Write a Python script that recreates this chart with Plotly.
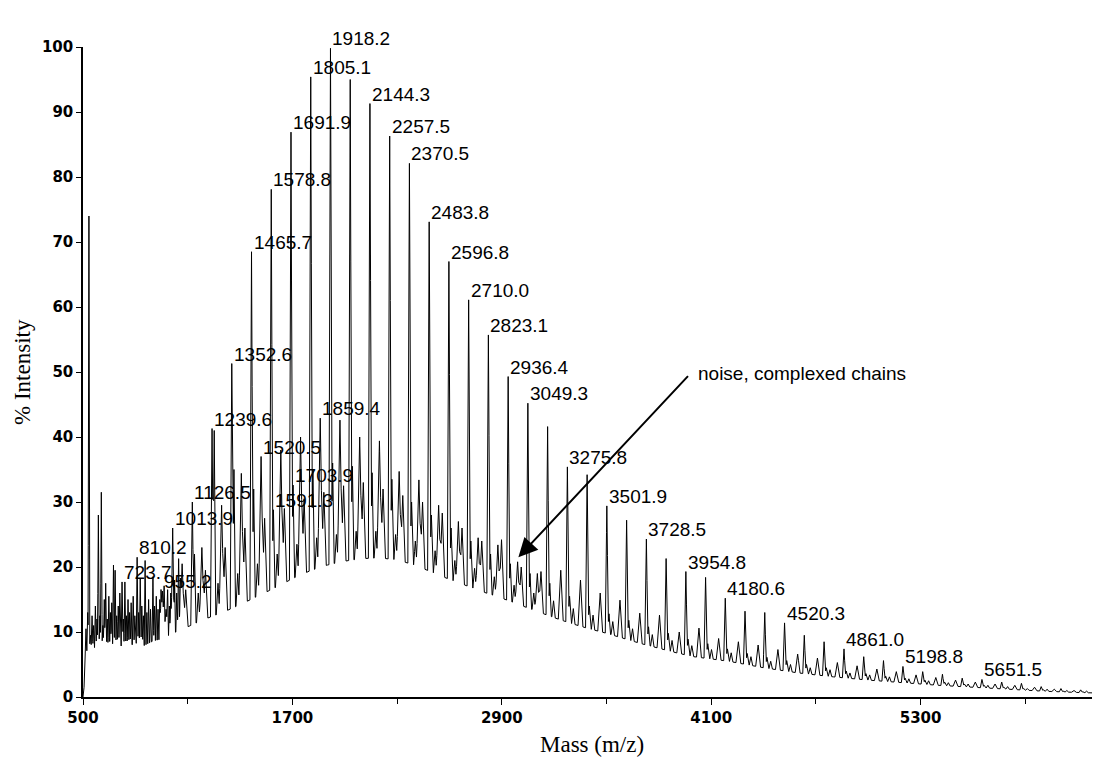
import numpy as np
import plotly.graph_objects as go

# ---------------- data ----------------
# lower envelope (floor) of the trace, % intensity
floor_mass = [500, 506, 512, 530, 560, 600, 650, 700, 750, 800, 850, 900, 950, 1000,
              1100, 1200, 1300, 1400, 1500, 1600, 1700, 1800, 1900, 2000, 2100, 2200,
              2300, 2400, 2500, 2600, 2700, 2800, 2900, 3000, 3100, 3200, 3300, 3400,
              3500, 3600, 3700, 3800, 3900, 4000, 4200, 4400, 4600, 4800, 5000, 5200,
              5400, 5600, 5800, 6000, 6200, 6328]
floor_val = [0, 1.5, 6, 8, 7.5, 8.2, 7.4, 8.0, 7.6, 8.3, 7.9, 8.6, 8.9, 9.6,
             10.8, 12.0, 13.0, 14.2, 15.5, 16.8, 18.2, 19.4, 20.3, 20.9, 21.3, 21.4,
             21.1, 20.3, 19.2, 18.1, 17.1, 16.1, 15.2, 14.2, 13.2, 12.2, 11.3, 10.5,
             9.8, 9.0, 8.2, 7.5, 6.8, 6.2, 5.5, 4.5, 3.7, 3.1, 2.6, 2.2,
             1.8, 1.5, 1.2, 0.9, 0.7, 0.6]

# main series (106.14 + n*113.16)
main_mass = [1013.9, 1126.5, 1239.6, 1352.6, 1465.7, 1578.8, 1691.9, 1805.1, 1918.2, 2031.3,
             2144.3, 2257.5, 2370.5, 2483.8, 2596.8, 2710.0, 2823.1, 2936.4, 3049.3, 3162.5,
             3275.8, 3388.9, 3501.9, 3615.2, 3728.5, 3841.6, 3954.8, 4067.8, 4180.6, 4293.7,
             4406.9, 4520.3, 4633.5, 4746.8, 4861.0, 4974.0, 5087.3, 5198.8, 5311.9, 5425.1,
             5538.3, 5651.5, 5764.6, 5877.8, 5990.9, 6104.1, 6217.2]
main_int = [26.0, 30.0, 41.3, 51.3, 68.5, 78.1, 86.9, 95.4, 99.8, 95.0,
            91.3, 86.3, 82.1, 73.1, 67.0, 61.1, 55.7, 49.3, 45.2, 41.6,
            35.4, 34.2, 29.4, 27.2, 24.3, 21.3, 19.3, 18.4, 15.2, 13.2,
            13.0, 11.4, 9.5, 8.5, 7.4, 6.2, 5.6, 4.7, 3.9, 3.5,
            2.9, 2.7, 2.3, 2.1, 1.6, 1.3, 1.1]

# secondary series (complexed chains)
c_mass = [955.2, 1068.1, 1181.2, 1294.3, 1407.4, 1520.5, 1633.6, 1746.7, 1859.4, 1972.5,
          2085.6, 2198.7, 2311.8, 2424.9, 2538.0, 2651.2, 2764.3, 2877.5, 2990.6, 3103.7]
c_int = [16.3, 20.5, 23.0, 29.5, 34.4, 37.0, 38.0, 40.0, 42.9, 42.6,
         40.0, 39.4, 34.7, 33.4, 29.5, 27.0, 24.5, 23.4, 20.8, 19.0]

d_mass = [976.0, 1088.5, 1201.6, 1314.6, 1427.7, 1540.8, 1653.9, 1767.1, 1880.2, 1993.3,
          2106.3, 2219.5, 2332.5, 2445.8, 2558.8, 2672.0, 2785.1, 2898.4, 3011.3, 3124.5,
          3237.8, 3350.9, 3463.9, 3577.2, 3690.5, 3803.6, 3916.8, 4029.8, 4142.6, 4255.7,
          4368.9, 4482.3, 4595.5, 4708.8, 4823.0, 4936.0, 5049.3, 5160.8, 5273.9, 5387.1,
          5500.3, 5613.5, 5726.6, 5839.8, 5952.9, 6066.1, 6179.2]
d_int = [13.5, 16.5, 19.5, 23.0, 26.0, 27.5, 29.0, 30.5, 31.5, 32.5,
         33.0, 32.0, 31.0, 30.0, 28.3, 26.0, 24.0, 24.2, 20.0, 19.3,
         19.5, 18.0, 16.0, 14.9, 12.9, 12.6, 10.0, 10.6, 9.0, 8.5,
         8.0, 7.3, 6.6, 6.0, 5.3, 4.8, 4.3, 3.9, 3.4, 3.0,
         2.6, 2.3, 2.0, 1.8, 1.5, 1.2, 1.0]

b_mass = [1139.0, 1252.0, 1365.1, 1478.2, 1591.3, 1703.9, 1817.5, 1930.6, 2043.7, 2156.8,
          2270.0, 2383.0, 2496.3, 2609.3, 2722.5, 2835.6, 2948.9, 3061.8, 3175.0, 3288.3,
          3401.4, 3514.4, 3627.7, 3741.0, 3854.1, 3967.3, 4080.3, 4193.1, 4306.2, 4419.4,
          4532.8, 4646.0, 4759.3, 4873.5, 4986.5, 5099.8, 5211.3, 5324.4, 5437.6, 5550.8,
          5664.0, 5777.1, 5890.3, 6003.4, 6116.6, 6229.7]
b_int = [22.0, 41.0, 35.0, 32.0, 28.8, 32.6, 35.0, 36.0, 35.5, 34.5,
         33.5, 30.0, 28.0, 26.0, 24.0, 22.0, 20.5, 19.0, 17.5, 15.5,
         14.0, 12.8, 11.8, 10.8, 9.8, 8.9, 8.2, 7.4, 6.7, 6.1,
         5.6, 5.0, 4.5, 4.0, 3.6, 3.2, 2.9, 2.6, 2.3, 2.0,
         1.8, 1.5, 1.3, 1.1, 0.9, 0.8]

e_mass = [1047.9, 1160.5, 1273.6, 1386.6, 1499.7, 1612.8, 1725.9, 1839.1, 1952.2, 2065.3,
          2178.3, 2291.5, 2404.5, 2517.8, 2630.8, 2744.0, 2857.1, 2970.4, 3083.3, 3196.5,
          3309.8, 3422.9, 3535.9, 3649.2, 3762.5, 3875.6, 3988.8, 4101.8, 4214.6, 4327.7,
          4440.9, 4554.3, 4667.5, 4780.8, 4895.0, 5008.0, 5121.3, 5232.8, 5345.9, 5459.1,
          5572.3, 5685.5, 5798.6, 5911.8, 6024.9, 6138.1, 6251.2]
e_int = [14.5, 16.0, 17.5, 19.0, 20.5, 22.0, 23.5, 24.5, 25.0, 25.5,
         25.5, 25.0, 24.0, 22.5, 21.0, 19.8, 18.5, 17.2, 16.0, 14.8,
         13.6, 12.6, 11.6, 10.5, 9.6, 8.7, 7.9, 7.3, 6.8, 6.2,
         5.5, 5.0, 4.5, 4.2, 3.7, 3.4, 3.1, 2.8, 2.5, 2.2,
         2.0, 1.8, 1.6, 1.3, 1.2, 1.0, 0.9]

# low-mass noise peaks
low_mass = [517, 527, 534, 543, 552, 561, 571, 580, 588, 597, 605, 614, 622, 630, 639,
            648, 657, 665, 674.6, 684, 693, 702, 711, 723.7, 731, 740, 749, 758, 767, 776,
            787.7, 797, 810.2, 819, 828, 837, 846, 856, 866, 876, 887, 900.8, 910, 920,
            930, 940, 947, 965, 985, 995, 1003, 1025, 1037, 1048, 1058]
low_int = [10.5, 13.0, 74.0, 9.5, 12.5, 11.0, 14.0, 12.0, 28.0, 12.5, 31.5, 11.0, 15.0, 17.5, 12.0,
           15.5, 13.0, 14.5, 20.3, 19.5, 12.5, 14.0, 16.0, 17.7, 12.0, 17.7, 12.5, 15.0, 13.0, 14.5,
           15.5, 12.5, 21.5, 13.0, 18.3, 14.0, 12.5, 21.0, 13.0, 15.0, 13.5, 18.5, 14.0, 15.5,
           13.5, 15.0, 13.5, 14.0, 15.0, 14.0, 16.0, 18.0, 16.0, 17.0, 15.5]

# labelled peaks
label_mass = [723.7, 810.2, 955.2, 1013.9, 1126.5, 1239.6, 1352.6, 1465.7, 1578.8, 1691.9,
              1805.1, 1918.2, 2144.3, 2257.5, 2370.5, 2483.8, 2596.8, 2710.0, 2823.1, 2936.4,
              3049.3, 3275.8, 3501.9, 3728.5, 3954.8, 4180.6, 4520.3, 4861.0, 5198.8, 5651.5,
              1520.5, 1591.3, 1703.9, 1859.4]

x_ticks = [500, 1700, 2900, 4100, 5300]
y_ticks = [0, 10, 20, 30, 40, 50, 60, 70, 80, 90, 100]

# ---------------- build the trace ----------------
series = [(main_mass, main_int, 9.0), (c_mass, c_int, 14.0), (d_mass, d_int, 14.0),
          (b_mass, b_int, 9.0), (e_mass, e_int, 10.0), (low_mass, low_int, 5.0)]
pk_m, pk_h, pk_w = [], [], []
for ms, hs, w in series:
    pk_m += list(ms); pk_h += list(hs); pk_w += [w] * len(ms)
pk_m = np.array(pk_m); pk_h = np.array(pk_h); pk_w = np.array(pk_w)
pk_ex = np.clip(pk_h - np.interp(pk_m, floor_mass, floor_val), 0, None)

xs = set(floor_mass)
for m, w in zip(pk_m, pk_w):
    xs.update([m - w, m, m + w])
xs = np.array(sorted(v for v in xs if 500 <= v <= 6328))
ys = np.interp(xs, floor_mass, floor_val).copy()
for m, e, w in zip(pk_m, pk_ex, pk_w):
    ys += e * np.clip(1 - np.abs(xs - m) / w, 0, None)

height_of = dict(zip(pk_m.round(1), pk_h))

fig = go.Figure()
fig.add_trace(go.Scatter(x=xs, y=ys, mode="lines",
                         line=dict(color="black", width=1), hoverinfo="skip"))

lab_font = dict(family="Liberation Sans, Arial", size=19, color="black")
annos = []
for m in label_mass:
    annos.append(dict(x=m, y=height_of[round(m, 1)], text=f"{m:.1f}", showarrow=False,
                      xanchor="left", yanchor="bottom", xshift=0, yshift=-3,
                      font=lab_font))

# formula arrow
annos.append(dict(x=2300, y=101.5, ax=4236, ay=101.5, axref="x", ayref="y", xref="x", yref="y",
                  text="", showarrow=True, arrowhead=2, arrowsize=1.9, arrowwidth=2,
                  arrowcolor="black"))
annos.append(dict(x=3387, y=101.6, text="106.14 + (16 * 113.16) = 1916.7", showarrow=False,
                  xanchor="center", yanchor="bottom", font=lab_font))
# noise arrow
annos.append(dict(x=2995, y=21.5, ax=3975, ay=49.6, axref="x", ayref="y", xref="x", yref="y",
                  text="", showarrow=True, arrowhead=2, arrowsize=1.9, arrowwidth=2,
                  arrowcolor="black"))
annos.append(dict(x=4015, y=49.8, text="noise, complexed chains", showarrow=False,
                  xanchor="left", yanchor="middle", font=lab_font))
# axis titles
annos.append(dict(xref="paper", yref="paper", x=-0.060, y=0.5, text="% Intensity",
                  textangle=-90, showarrow=False, xanchor="center", yanchor="middle",
                  font=dict(family="Liberation Serif, Times New Roman", size=23, color="black")))
annos.append(dict(xref="paper", yref="paper", x=0.5, y=-0.0738, text="Mass (m/z)",
                  showarrow=False, xanchor="center", yanchor="middle",
                  font=dict(family="Liberation Serif, Times New Roman", size=23, color="black")))

tick_font = dict(family="DejaVu Sans", size=15, color="black", weight="bold")
# the page body has an 8px margin, so margins are reduced by 8px on left/top
fig.update_layout(
    width=1100, height=758,
    margin=dict(l=75, r=8, t=39, b=69),
    paper_bgcolor="white", plot_bgcolor="white",
    showlegend=False,
    annotations=annos,
    xaxis=dict(range=[500, 6328], tickvals=x_ticks, ticktext=[str(v) for v in x_ticks],
               ticks="outside", ticklen=6, tickwidth=1, tickcolor="black",
               minor=dict(dtick=600, tick0=500, ticks="outside", ticklen=5, tickcolor="black"),
               showline=True, linecolor="black", linewidth=1.5, showgrid=False,
               zeroline=False, tickfont=tick_font, automargin=False),
    yaxis=dict(range=[0, 100], tickvals=y_ticks, ticks="outside", ticklen=5, tickwidth=1,
               tickcolor="black", showline=True, linecolor="black", linewidth=1.5,
               showgrid=False, zeroline=False, tickfont=tick_font, automargin=False),
)
fig.write_html("out.html")
